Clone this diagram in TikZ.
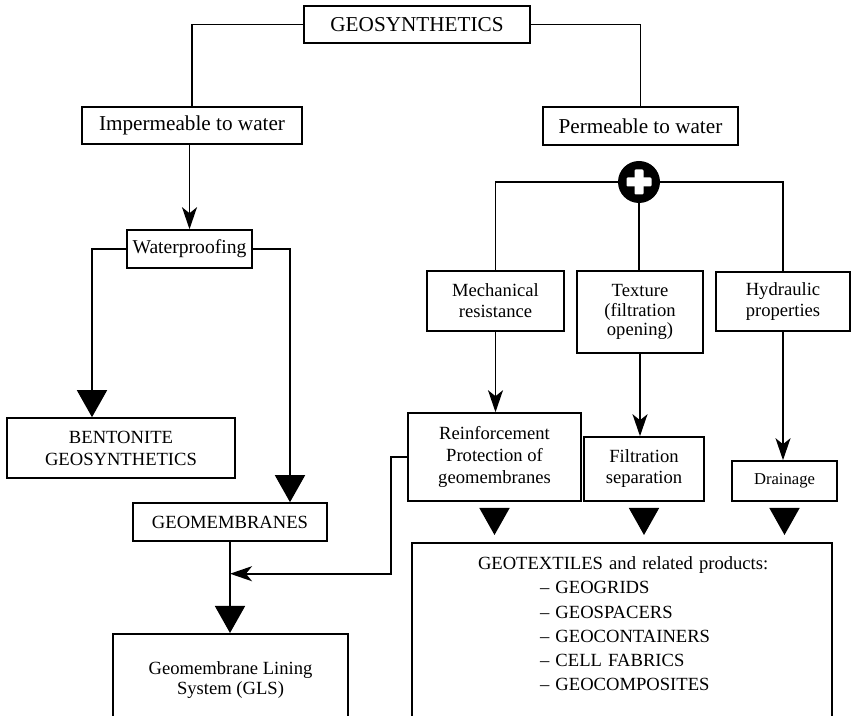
\documentclass[tikz,border=0pt]{standalone}
\usepackage{fontspec}
\setmainfont{Liberation Serif}
\usepackage{tikz}
\usetikzlibrary{arrows.meta, positioning, calc}
\tikzset{
  geobox/.style={
    draw, line width=0.8pt, align=center, inner sep=1pt,
    font=\fontsize{9.3}{10.5}\selectfont
  },
  headbox/.style={
    geobox, font=\fontsize{10.6}{12}\selectfont
  },
  geoline/.style={line width=0.8pt},
  geoarrow/.style={
    geoline, -{Stealth[length=11pt, width=7.5pt, inset=3pt]}
  },
  bigarrow/.style={
    geoline, -{Triangle[length=13.5pt, width=15pt]}
  },
  bigtip/.style={
    bigarrow, shorten <=3.5pt, shorten >=3.5pt
  },
  plusdot/.style={
    circle, fill=black, minimum size=21pt, inner sep=0pt
  },
}

\begin{document}
\begin{tikzpicture}[x=0.5pt, y=-0.5pt]
  \useasboundingbox (0,0) rectangle (852,716);
  \clip (0,0) rectangle (852,716);

  % Top level
  \node[headbox, minimum width=113pt, minimum height=18.5pt] (geo) at (417,24.5) {GEOSYNTHETICS};
  \node[headbox, minimum width=110pt, minimum height=18.5pt] (imperm) at (192,125.5) {Impermeable to water};
  \node[headbox, minimum width=97.5pt, minimum height=19pt] (perm) at (640.5,126) {Permeable to water};

  % Impermeable branch
  \node[geobox, font=\fontsize{9.8}{11}\selectfont, minimum width=62.5pt, minimum height=19pt] (water) at (189.5,249) {Waterproofing};
  \node[geobox, minimum width=114pt, minimum height=30pt, font=\fontsize{9.3}{11}\selectfont] (bent) at (121,448) {BENTONITE\\GEOSYNTHETICS};
  \node[geobox, minimum width=97pt, minimum height=19pt] (geomem) at (230,522) {GEOMEMBRANES};
  \node[geobox, anchor=north, minimum width=117.5pt, inner ysep=14pt, text depth=40pt,
    font=\fontsize{9.3}{10}\selectfont] (gls) at (230.5,633) {Geomembrane Lining\\System (GLS)};

  % Permeable branch
  \node[plusdot] (plus) at (639,182) {};
  \fill[white, rounded corners=0.6pt] ([shift={(-12.5,-4.5)}]plus.center) rectangle ([shift={(12.5,4.5)}]plus.center);
  \fill[white, rounded corners=0.6pt] ([shift={(-4.5,-12.5)}]plus.center) rectangle ([shift={(4.5,12.5)}]plus.center);

  \node[geobox, minimum width=68.5pt, minimum height=30pt] (mech) at (495.5,301) {Mechanical\\resistance};
  \node[geobox, minimum width=63pt, minimum height=41pt, font=\fontsize{9.3}{9.8}\selectfont] (texture) at (640,312) {Texture\\(filtration\\opening)};
  \node[geobox, minimum width=67pt, minimum height=29.5pt] (hydr) at (783,301.5) {Hydraulic\\properties};

  \node[geobox, minimum width=86.5pt, minimum height=44pt, font=\fontsize{9.3}{10.8}\selectfont] (reinf) at (494.5,457) {Reinforcement\\Protection of\\geomembranes};
  \node[geobox, minimum width=60pt, minimum height=32pt] (filt) at (644,469) {Filtration\\separation};
  \node[geobox, minimum width=52.5pt, minimum height=20pt, font=\fontsize{8.3}{10}\selectfont] (drain) at (784.5,481) {Drainage};

  \node[geobox, anchor=north, text width=210pt, inner xsep=0pt, inner ysep=7pt, align=left,
    text depth=90pt, font=\fontsize{9.3}{12.1}\selectfont] (geotex) at (622,542) {%
    \hspace*{33pt}GEOTEXTILES and related products:\\
    \hspace*{64pt}– GEOGRIDS\\
    \hspace*{64pt}– GEOSPACERS\\
    \hspace*{64pt}– GEOCONTAINERS\\
    \hspace*{64pt}– CELL FABRICS\\
    \hspace*{64pt}– GEOCOMPOSITES};

  % Connectors from the top
  \draw[geoline] (geo.west) -| (imperm.north);
  \draw[geoline] (geo.east) -| (perm.north);

  % Impermeable side
  \draw[geoarrow] (water.north |- imperm.south) -- (water.north);
  \draw[bigarrow] (water.west) -| ([xshift=-14.5pt]bent.north);
  \draw[bigarrow] (water.east) -| ([xshift=30pt]geomem.north);
  \draw[bigarrow] (geomem.south) -- (geomem.south |- gls.north);
  \coordinate (join) at ($(geomem.south)!0.35!(geomem.south |- gls.north)$);
  \draw[geoarrow] (reinf.west) -- ++(-16,0) |- (join);

  % Permeable side
  \draw[geoline] (plus.west) -| (mech.north);
  \draw[geoline] (plus.east) -| (hydr.north);
  \draw[geoline] (plus.south) -- (plus.south |- texture.north);
  \draw[geoarrow] (mech.south) -- (mech.south |- reinf.north);
  \draw[geoarrow] (texture.south) -- (texture.south |- filt.north);
  \draw[geoarrow] (hydr.south) -- (hydr.south |- drain.north);

  % Triangles into the products box
  \draw[bigtip] (reinf.south) -- (reinf.south |- geotex.north);
  \draw[bigtip] (filt.south) -- (filt.south |- geotex.north);
  \draw[bigtip] (drain.south) -- (drain.south |- geotex.north);
\end{tikzpicture}
\end{document}
